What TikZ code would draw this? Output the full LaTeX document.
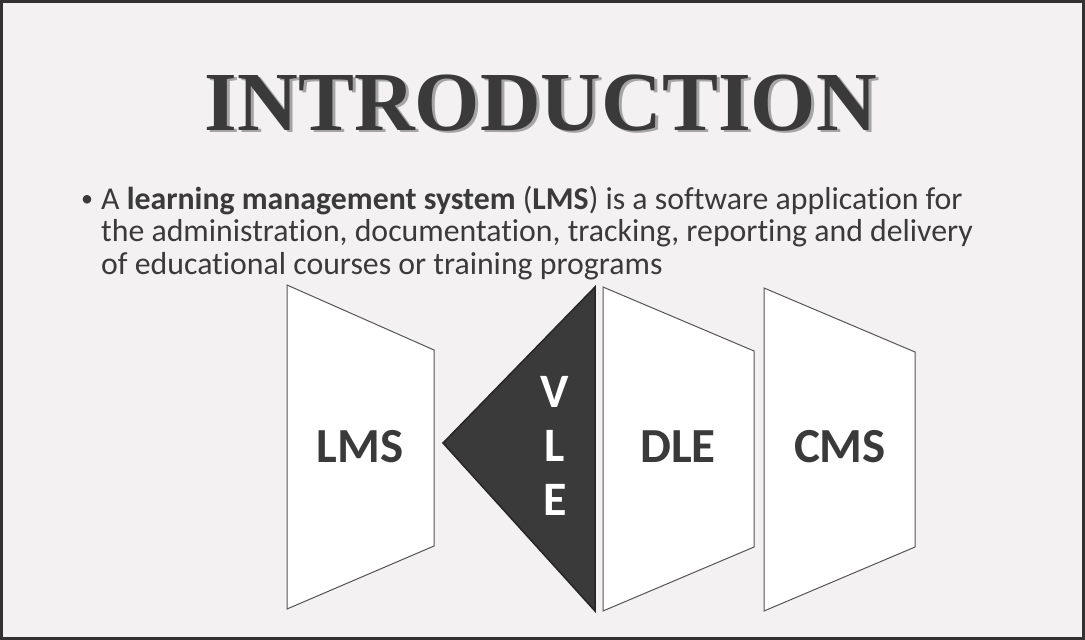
\documentclass[tikz,border=0pt]{standalone}
\usepackage{fontspec}
\setmainfont{Carlito}[Ligatures=NoCommon]
\newfontfamily\titlefont{Liberation Serif}
\definecolor{bg}{RGB}{243,241,241}
\definecolor{framec}{RGB}{50,50,50}
\definecolor{edgec}{RGB}{85,85,85}
\definecolor{inkc}{RGB}{58,58,58}
\definecolor{shadowc}{RGB}{165,165,165}
\definecolor{vlec}{RGB}{58,58,58}
\tikzset{
  panel/.style={draw=edgec, line width=1pt, fill=white, line join=miter},
  lbl/.style={font=\bfseries\fontsize{49}{49}\selectfont, text=inkc, anchor=base, inner sep=0pt},
  vlelbl/.style={font=\bfseries\fontsize{48}{48}\selectfont, text=white, anchor=base, inner sep=0pt},
  bodyline/.style={font=\fontsize{31.8}{32}\selectfont, text=inkc, anchor=base west, inner sep=0pt},
  titletxt/.style={font=\titlefont\bfseries\fontsize{84}{84}\selectfont, anchor=base, inner sep=0pt}
}
\begin{document}
\begin{tikzpicture}[x=1pt,y=-1pt]
\path[use as bounding box, fill=bg] (0,0) rectangle (1085,640);
\draw[framec, line width=3pt] (1.5,1.5) rectangle (1083.5,638.5);
% title
\node[titletxt, text=shadowc] (titleshadow) at (544,132.5) {INTRODUCTION};
\node[titletxt, text=inkc] (title) at (541,130) {INTRODUCTION};
% body
\node[font=\fontsize{24}{24}\selectfont, text=inkc, anchor=base, inner sep=0pt] (bullet) at (87,206) {•};
\node[bodyline] (line1) at (101,209) {A \textbf{learning management system} (\textbf{LMS}) is a software application for};
\node[bodyline] (line2) at (101,241.5) {the administration, documentation, tracking, reporting and delivery};
\node[bodyline] (line3) at (101,274) {of educational courses or training programs};
% shapes
\coordinate (lmsA) at (287,285); \coordinate (lmsB) at (434,350);
\coordinate (lmsC) at (434,546); \coordinate (lmsD) at (287,609);
\draw[panel] (lmsA) -- (lmsB) -- (lmsC) -- (lmsD) -- cycle;
\coordinate (vleTip) at (443,443); \coordinate (vleTop) at (595,287); \coordinate (vleBot) at (595,611);
\draw[draw=black!85, fill=vlec, line width=1.5pt, line join=miter] (vleTip) -- (vleTop) -- (vleBot) -- cycle;
\coordinate (dleA) at (603,287); \coordinate (dleB) at (754,351);
\coordinate (dleC) at (754,547); \coordinate (dleD) at (603,611);
\draw[panel] (dleA) -- (dleB) -- (dleC) -- (dleD) -- cycle;
\coordinate (cmsA) at (764,288); \coordinate (cmsB) at (915,352);
\coordinate (cmsC) at (915,547); \coordinate (cmsD) at (764,611);
\draw[panel] (cmsA) -- (cmsB) -- (cmsC) -- (cmsD) -- cycle;
% labels
\node[lbl] (lms) at (360,462) {LMS};
\node[lbl] (dle) at (678,462) {DLE};
\node[lbl] (cms) at (840,462) {CMS};
\node[vlelbl] (vleV) at (555,407) {V};
\node[vlelbl] (vleL) at (555,461) {L};
\node[vlelbl] (vleE) at (555,515) {E};
\end{tikzpicture}
\end{document}
